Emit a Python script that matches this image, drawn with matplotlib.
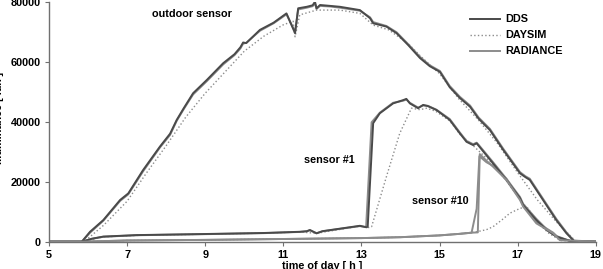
import matplotlib
matplotlib.use('Agg')
import matplotlib.pyplot as plt

plt.rcParams['font.family'] = ['Liberation Sans', 'DejaVu Sans']
plt.rcParams['font.weight'] = 'bold'

# outdoor sensor
out_t = [5, 5.84, 6.05, 6.39, 6.82, 7.03, 7.41, 7.84, 8.1, 8.27, 8.45, 8.69, 9.04, 9.46, 9.75, 9.9, 9.97,
         10.05, 10.4, 10.75, 11.08, 11.3, 11.38, 11.6, 11.75, 11.81, 11.85, 11.94, 12.2, 12.45, 12.96,
         13.22, 13.3, 13.64, 13.9, 14.2, 14.5, 14.75, 15.01, 15.26, 15.52, 15.78, 16.0, 16.29, 16.63,
         17.06, 17.2, 17.31, 17.65, 17.99, 18.25, 18.46, 19]
out_dds = [0, 0, 3300, 7200, 13900, 16100, 23900, 31700, 36000, 40600, 44500, 49500, 53900, 59500, 62500,
           64800, 66400, 66200, 70600, 73000, 76100, 69500, 77800, 78300, 78800, 80000, 77800, 78900,
           78600, 78300, 77200, 74500, 72800, 71700, 69500, 65500, 61200, 58500, 56600, 51500, 47900,
           45000, 41000, 37200, 30600, 22800, 21500, 20600, 13900, 7200, 2800, 0, 0]
out_rad = [0, 0, 3000, 7000, 13600, 15800, 23500, 31400, 35600, 40300, 44200, 49100, 53500, 59100, 62200,
           64400, 66000, 66300, 70300, 72800, 75800, 70000, 77400, 78000, 78500, 79400, 77600, 78600,
           78400, 78000, 77000, 74800, 73200, 71900, 69800, 65800, 61600, 58800, 56900, 51900, 48300,
           45400, 41400, 37600, 31000, 23200, 21800, 21000, 14300, 7600, 3100, 0, 0]
out_t_ds = [5, 5.9, 6.4, 7.0, 7.5, 8.0, 8.5, 9.0, 9.5, 10.0, 10.5, 11.0, 11.25, 11.3, 11.42, 11.85, 12.45,
            12.96, 13.3, 13.7, 14.2, 14.5, 15.0, 15.5, 16.0, 16.5, 17.0, 17.5, 18.0, 18.5, 19]
out_ds = [0, 0, 5500, 13500, 23000, 32000, 41500, 49500, 56500, 63500, 68500, 72300, 73500, 68300, 75600,
          77200, 77200, 76100, 72200, 70600, 66000, 62000, 56000, 47500, 40500, 32500, 23000, 14000, 6500,
          0, 0]

# sensor #1
s1_t = [5, 5.84, 6.1, 6.39, 7.24, 8.94, 10.5, 11.42, 11.6, 11.68, 11.85, 12.0, 12.96, 13.13, 13.16, 13.30,
        13.47, 13.81, 14.07, 14.15, 14.24, 14.45, 14.58, 14.7, 14.92, 15.26, 15.52, 15.69, 15.86, 15.95,
        16.0, 16.37, 16.71, 17.06, 17.14, 17.48, 17.74, 17.99, 18.4, 19]
s1_dds = [0, 0, 1000, 1700, 2200, 2550, 2900, 3300, 3500, 3900, 2800, 3500, 5300, 4800, 5000, 39500,
          42800, 46100, 47200, 47600, 46100, 44500, 45600, 45200, 43900, 40600, 36100, 33300, 32200, 32800,
          32000, 26100, 20600, 14500, 12200, 7200, 3900, 1700, 0, 0]
s1_t_rad = [5, 5.84, 6.1, 6.39, 7.24, 8.94, 10.5, 11.42, 11.6, 11.68, 11.85, 12.0, 12.96, 13.1, 13.12,
            13.26, 13.47, 13.81, 14.07, 14.15, 14.24, 14.45, 14.58, 14.7, 14.92, 15.26, 15.52, 15.69,
            15.86, 15.95, 16.0, 16.37, 16.71, 17.06, 17.14, 17.48, 17.74, 17.99, 18.4, 19]
s1_rad = [0, 0, 950, 1650, 2150, 2500, 2850, 3250, 3450, 3800, 2800, 3450, 5200, 4900, 5100, 39800,
          43000, 46300, 47000, 47400, 46300, 44700, 45400, 45300, 44000, 40900, 36400, 33600, 32500, 33000,
          32300, 26500, 21000, 14900, 12600, 7600, 4200, 1900, 0, 0]
s1_t_ds = [5, 5.84, 6.39, 7.24, 8.94, 10.5, 11.42, 11.85, 12.96, 13.2, 13.26, 13.64, 13.98, 14.28, 14.5,
           14.67, 14.9, 15.26, 15.52, 15.86, 16.37, 16.71, 17.06, 17.48, 17.99, 18.4, 19]
s1_ds = [0, 0, 1600, 2100, 2500, 2850, 3250, 2800, 5200, 4700, 5000, 21700, 36100, 44500, 44000, 44500,
         43500, 40300, 35800, 32000, 25800, 20300, 14200, 7000, 1600, 0, 0]

# sensor #10
s10_t = [5, 5.84, 7, 9, 11, 13, 14, 15, 15.5, 15.82, 15.98, 16.03, 16.2, 16.37, 16.71, 17.06, 17.14,
         17.48, 17.91, 18.08, 19]
s10_dds = [0, 0, 400, 600, 900, 1200, 1500, 2100, 2600, 3000, 3100, 29200, 27000, 25000, 20600, 13900,
           11700, 6100, 2800, 500, 0]
s10_t_rad = [5, 5.84, 7, 9, 11, 13, 14, 15, 15.5, 15.82, 15.95, 16.02, 16.2, 16.37, 16.71, 17.06, 17.14,
             17.48, 17.91, 18.1, 19]
s10_rad = [0, 0, 400, 600, 900, 1200, 1500, 2100, 2600, 3000, 11000, 28500, 26500, 25300, 21000, 14300,
           12400, 6500, 3000, 600, 0]
s10_t_ds = [5, 5.84, 7, 9, 11, 13, 14, 15, 15.5, 15.95, 16.2, 16.37, 16.6, 16.8, 17.06, 17.23, 17.35,
            17.48, 17.8, 18.1, 19]
s10_ds = [0, 0, 400, 600, 900, 1200, 1500, 2100, 2600, 3300, 4000, 5000, 7300, 9500, 11100, 11700, 9500,
          6700, 2800, 400, 0]

c_dds = '#4a4a4a'
c_rad = '#8c8c8c'
c_ds = '#8c8c8c'

fig = plt.figure(figsize=(6.03, 2.69), dpi=100)
ax = fig.add_axes([0.0813, 0.1015, 0.9067, 0.8922])

ax.plot(out_t_ds, out_ds, ':', color=c_ds, lw=1.0, label='DAYSIM')
ax.plot(s1_t_ds, s1_ds, ':', color=c_ds, lw=1.0)
ax.plot(s10_t_ds, s10_ds, ':', color=c_ds, lw=1.0)
ax.plot(out_t, out_rad, '-', color=c_rad, lw=1.4, label='RADIANCE')
ax.plot(s1_t_rad, s1_rad, '-', color=c_rad, lw=1.4)
ax.plot(s10_t_rad, s10_rad, '-', color=c_rad, lw=1.4)
ax.plot(out_t, out_dds, '-', color=c_dds, lw=1.4, label='DDS')
ax.plot(s1_t, s1_dds, '-', color=c_dds, lw=1.4)
ax.plot(s10_t, s10_dds, '-', color=c_rad, lw=1.4)

ax.set_xlim(5, 19)
ax.set_ylim(0, 80000)
ax.set_xticks([5, 7, 9, 11, 13, 15, 17, 19])
ax.set_yticks([0, 20000, 40000, 60000, 80000])
for s in ['top', 'right']:
    ax.spines[s].set_visible(False)
for s in ['left', 'bottom']:
    ax.spines[s].set_color('#707070')
    ax.spines[s].set_linewidth(1.0)
ax.tick_params(axis='both', labelsize=7.8, length=3, color='#707070', pad=3)
for lab in ax.get_xticklabels() + ax.get_yticklabels():
    lab.set_fontweight('bold')

ax.set_xlabel('time of day [ h ]', fontsize=7.8, fontweight='bold')
ax.xaxis.set_label_coords(0.5, -0.08)
ax.set_ylabel('illuminance [ lux ]', fontsize=7.8, fontweight='bold')
ax.yaxis.set_label_coords(-0.082, 0.515)

ax.text(8.66, 75900, 'outdoor sensor', fontsize=7.8, fontweight='bold', ha='center', va='center')
ax.text(12.17, 27200, 'sensor #1', fontsize=7.8, fontweight='bold', ha='center', va='center')
ax.text(15.01, 13600, 'sensor #10', fontsize=7.8, fontweight='bold', ha='center', va='center')

h, l = ax.get_legend_handles_labels()
order = [2, 0, 1]
ax.legend([h[i] for i in order], [l[i] for i in order], loc='upper left', bbox_to_anchor=(0.77, 0.947),
          frameon=False, prop={'weight': 'bold', 'size': 7.8}, borderpad=0, borderaxespad=0,
          handlelength=2.8, handletextpad=0.45, labelspacing=0.55)

fig.savefig('out.png', dpi=100)
